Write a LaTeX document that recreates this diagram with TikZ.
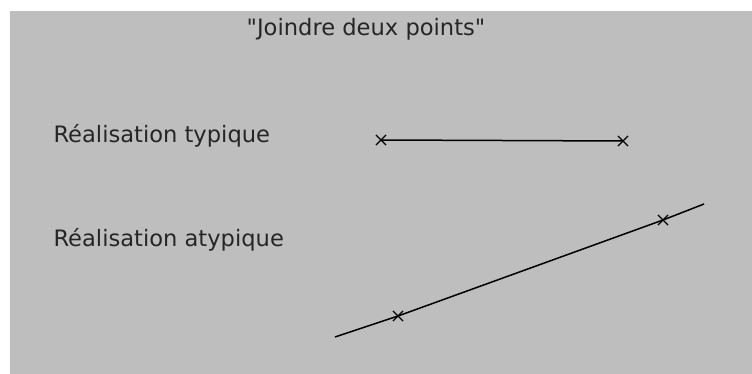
\documentclass[tikz,border=0pt]{standalone}
\usepackage{fontspec}
\setmainfont{DejaVu Sans}[Ligatures=TeXOff]
\definecolor{fondgris}{RGB}{190,190,190}
\usetikzlibrary{shapes.misc}

\begin{document}
\begin{tikzpicture}[x=1pt, y=-1pt, every node/.style={font=\fontsize{22.6}{26}\selectfont, text=black!85},
    croix/.style={cross out, draw, line width=1.1pt, minimum size=9pt, inner sep=0pt}]
        \useasboundingbox (0,0) rectangle (752,374);
        \fill[fondgris] (10,11) rectangle (752,374);
        \node[anchor=base] (titre) at (366,36) {"Joindre deux points"};
        \node[anchor=base west] (typ) at (50,143) {Réalisation typique};
        \node[anchor=base west] (atyp) at (50,247) {Réalisation atypique};
        % typical: segment between the two points
        \node[croix] (p1) at (381,140) {};
        \node[croix] (p2) at (623,141) {};
        \draw[line width=1.5pt] (p1.center) -- (p2.center);
        % atypical: the line goes beyond the points
        \coordinate (d1) at (335,337);
        \coordinate (d2) at (704,204);
        \node[croix] (q1) at (398,316) {};
        \node[croix] (q2) at (663,220) {};
        \draw[line width=1.5pt] (d1) -- (q1.center) -- (q2.center) -- (d2);
\end{tikzpicture}
\end{document}
